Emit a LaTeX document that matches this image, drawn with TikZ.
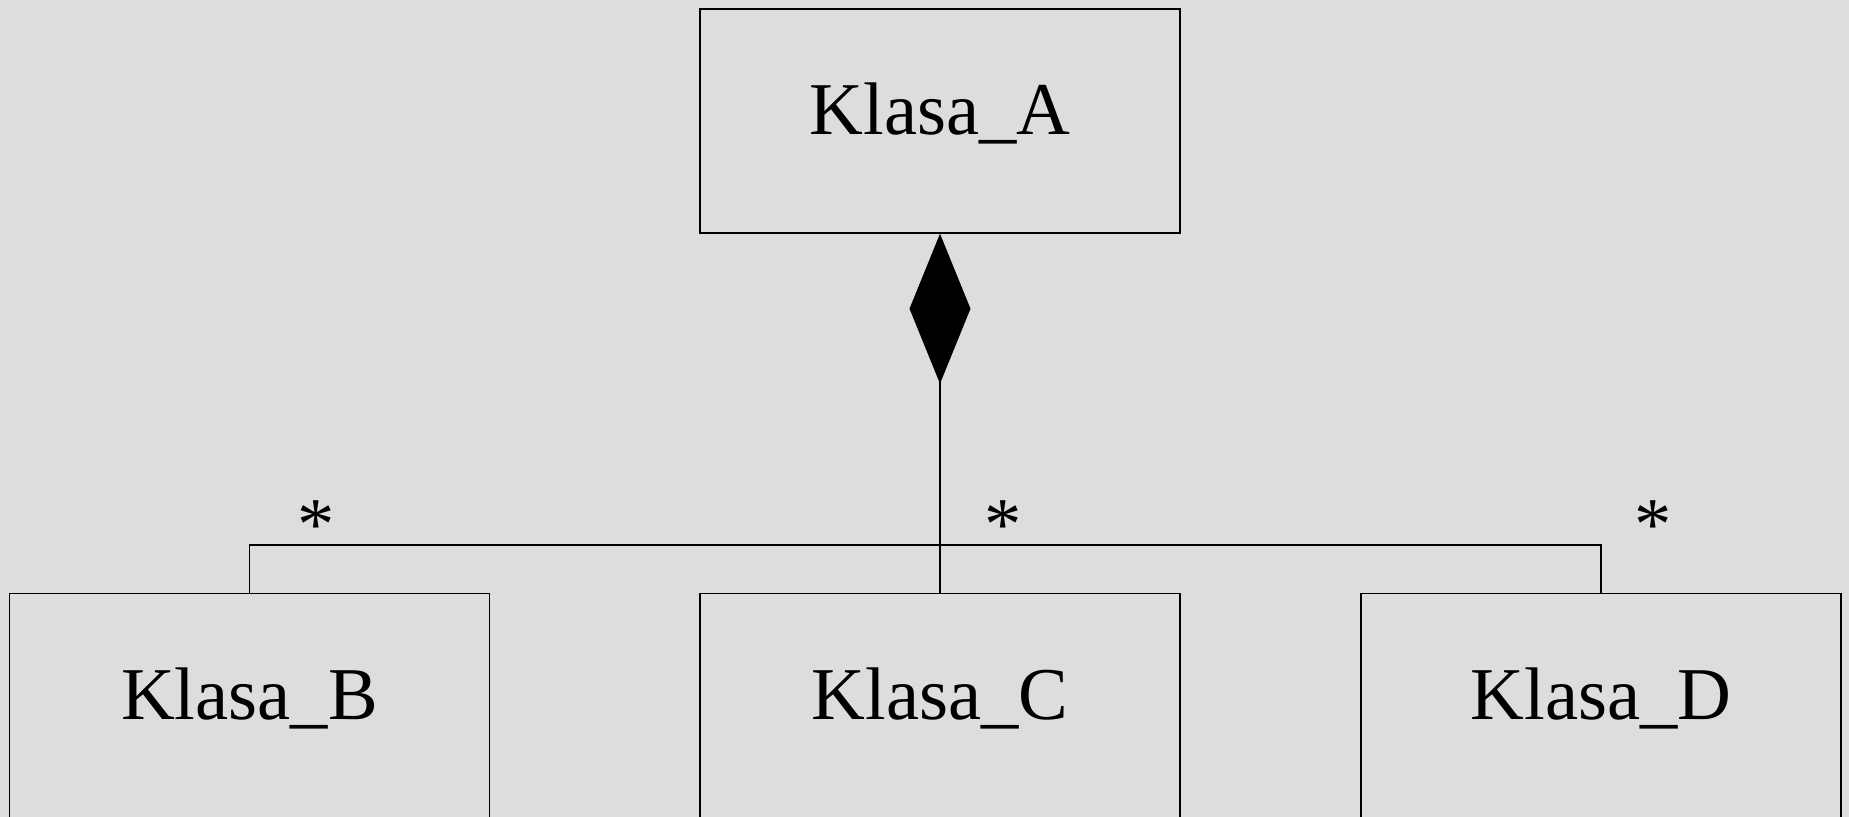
\documentclass[tikz,border=0pt]{standalone}
\usepackage{fontspec}
\setmainfont{Liberation Serif}
\usetikzlibrary{arrows.meta}
\definecolor{canvas}{RGB}{221,221,221}

\tikzset{
	klasa/.style={draw=black, fill=canvas, line width=0.4pt, minimum width=4.8cm, minimum height=2.24cm, font=\fontsize{21.2}{26}\selectfont, text height=14.8pt, text depth=6.9pt},
	dolna/.style={klasa, anchor=north, minimum height=2.34cm, text depth=9.7pt},
	krotnosc/.style={font=\fontsize{21.2}{26}\selectfont, anchor=base, inner sep=0pt},
	linia/.style={draw=black, line width=0.4pt}
}

\begin{document}
\begin{tikzpicture}
		\fill[canvas] (0,0) rectangle (18.49,-8.17);
		\useasboundingbox (0,0) rectangle (18.49,-8.17);

		\node[klasa] (A) at (9.40,-1.21) {Klasa\_A};

		\node[dolna] (B) at (2.494,-5.93) {Klasa\_B};
		\node[dolna] (C) at (9.40,-5.93) {Klasa\_C};
		\node[dolna] (D) at (16.01,-5.93) {Klasa\_D};

		% kompozycja
		\coordinate (szyna) at (9.40,-5.45);
		\draw[linia, {Diamond[length=1.5cm, width=0.61cm]}-] (A.south) -- (C.north);
		\draw[linia] (B.north) |- (szyna) -| (D.north);

		\node[krotnosc] (mB) at (3.16,-5.49) {*};
		\node[krotnosc] (mC) at (10.03,-5.49) {*};
		\node[krotnosc] (mD) at (16.53,-5.49) {*};
	\end{tikzpicture}
\end{document}
